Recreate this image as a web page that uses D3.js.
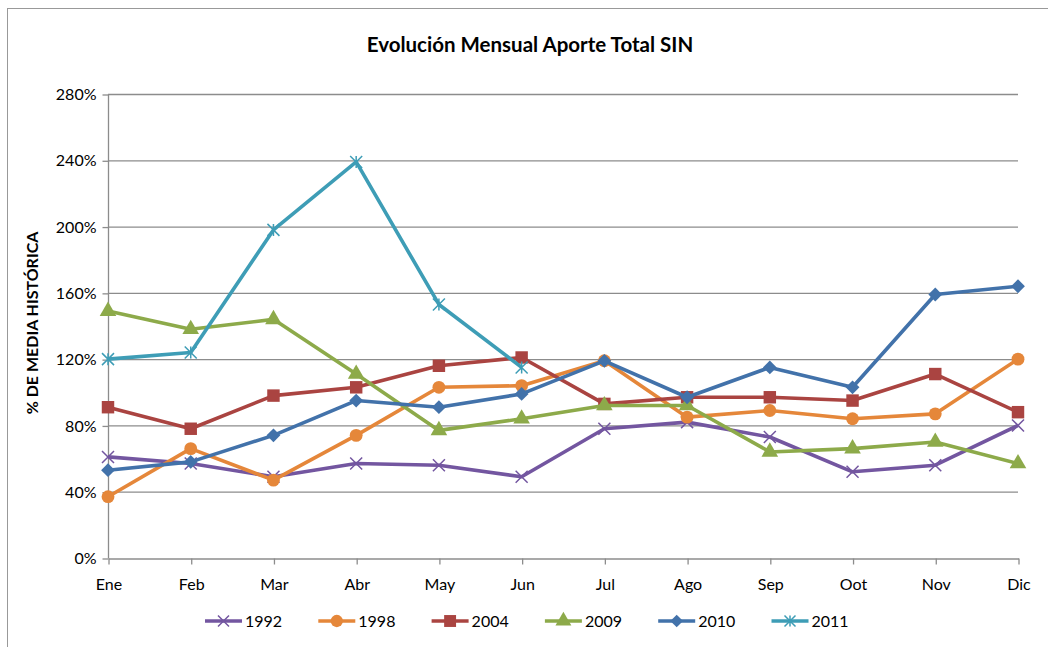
<!DOCTYPE html>
<html lang="es">
<head>
    <meta charset="UTF-8">
    <script src="https://d3js.org/d3.v7.min.js"></script>
    <style>
        body { margin: 0; background: #fff; }
        text { font-family: Lato, "Open Sans", Arial, sans-serif; fill: #000; }
    </style>
</head>
<body>
    <svg id="chart" width="1048" height="647"></svg>
    <script>
        // Meses y valores (% de media histórica)
        const meses = ["Ene", "Feb", "Mar", "Abr", "May", "Jun", "Jul", "Ago", "Sep", "Oot", "Nov", "Dic"];
        const yTicks = [0, 40, 80, 120, 160, 200, 240, 280];

        const v1992 = [61, 57, 49, 57, 56, 49, 78, 82, 73, 52, 56, 80];
        const v1998 = [37, 66, 47, 74, 103, 104, 119, 85, 89, 84, 87, 120];
        const v2004 = [91, 78, 98, 103, 116, 121, 93, 97, 97, 95, 111, 88];
        const v2009 = [149, 138, 144, 111, 77, 84, 92, 92, 64, 66, 70, 57];
        const v2010 = [53, 58, 74, 95, 91, 99, 119, 97, 115, 103, 159, 164];
        const v2011 = [120, 124, 198, 239, 153, 115];

        const series = [
            { name: "1992", values: v1992, color: "#7356A0", symbol: "x" },
            { name: "1998", values: v1998, color: "#E5873A", symbol: "circle" },
            { name: "2004", values: v2004, color: "#AA4441", symbol: "square" },
            { name: "2009", values: v2009, color: "#8DAA4A", symbol: "triangle" },
            { name: "2010", values: v2010, color: "#4272AA", symbol: "diamond" },
            { name: "2011", values: v2011, color: "#3E9DB6", symbol: "star" }
        ];

        const width = 1048, height = 647;
        const margin = { top: 94, right: 30, bottom: 89, left: 108 };

        const svg = d3.select("#chart");

        // marco del gráfico
        svg.append("rect")
            .attr("x", 7.5).attr("y", 8.5)
            .attr("width", width + 10).attr("height", height + 10)
            .attr("fill", "none").attr("stroke", "#999").attr("stroke-width", 1);

        svg.append("text")
            .attr("x", 530)
            .attr("y", 52)
            .attr("text-anchor", "middle")
            .style("font-size", "20.5px")
            .style("font-weight", "bold")
            .text("Evolución Mensual Aporte Total SIN");

        const x = d3.scalePoint()
            .domain(meses)
            .range([margin.left, width - margin.right]);

        const y = d3.scaleLinear()
            .domain([0, 280])
            .range([height - margin.bottom, margin.top]);

        // líneas de cuadrícula
        svg.append("g")
            .selectAll("line")
            .data(yTicks.slice(1))
            .enter().append("line")
            .attr("x1", margin.left).attr("x2", width - margin.right)
            .attr("y1", d => y(d) + 0.5).attr("y2", d => y(d) + 0.5)
            .attr("stroke", "#8c8c8c").attr("stroke-width", 1.3);

        const yAxis = svg.append("g")
            .attr("transform", `translate(${margin.left + 0.5},0.5)`)
            .call(d3.axisLeft(y).tickValues(yTicks).tickFormat(d => d + "%").tickSize(6).tickPadding(6));

        const xAxis = svg.append("g")
            .attr("transform", `translate(0.5,${height - margin.bottom + 0.5})`)
            .call(d3.axisBottom(x).tickSize(6).tickPadding(14).tickSizeOuter(0));

        [yAxis, xAxis].forEach(a => {
            a.selectAll("path, line").attr("stroke", "#8c8c8c").attr("stroke-width", 1.3);
            a.selectAll("text").style("font-size", "16px").attr("fill", "#000");
        });
        yAxis.select(".domain").attr("d", `M0,${y(0)}V${y(280)}`);

        svg.append("text")
            .attr("transform", `translate(38,${(y(0) + y(280)) / 2 - 3}) rotate(-90)`)
            .attr("text-anchor", "middle")
            .style("font-size", "16px")
            .style("font-weight", "bold")
            .text("% DE MEDIA HISTÓRICA");

        const line = d3.line()
            .x((d, i) => x(meses[i]))
            .y(d => y(d));

        function drawMarker(g, s, size) {
            const c = s.color;
            const r = size / 2;
            if (s.symbol === "x" || s.symbol === "star") {
                g.append("path")
                    .attr("d", `M${-r},${-r}L${r},${r}M${-r},${r}L${r},${-r}` + (s.symbol === "star" ? `M0,${-r}V${r}` : ""))
                    .attr("stroke", c).attr("stroke-width", 1.5).attr("fill", "none");
            } else if (s.symbol === "diamond") {
                const d = r * 1.15;
                g.append("path")
                    .attr("d", `M0,${-d}L${d},0L0,${d}L${-d},0Z`)
                    .attr("fill", c);
            } else {
                const type = { circle: d3.symbolCircle, square: d3.symbolSquare, triangle: d3.symbolTriangle }[s.symbol];
                const area = { circle: 130, square: 155, triangle: 120 }[s.symbol] * size / 12;
                g.append("path")
                    .attr("d", d3.symbol().type(type).size(area)())
                    .attr("fill", c);
            }
        }

        series.forEach(s => {
            svg.append("path")
                .datum(s.values)
                .attr("fill", "none")
                .attr("stroke", s.color)
                .attr("stroke-width", 3.6)
                .attr("stroke-linejoin", "round")
                .attr("d", line);

            s.values.forEach((v, i) => {
                const g = svg.append("g").attr("transform", `translate(${x(meses[i])},${y(v)})`);
                drawMarker(g, s, 12);
            });
        });

        // leyenda
        const legend = svg.append("g").attr("transform", "translate(205,621)");
        series.forEach((s, i) => {
            const g = legend.append("g").attr("transform", `translate(${i * 113.3},0)`);
            g.append("line").attr("x1", 0).attr("x2", 37).attr("y1", 0).attr("y2", 0)
                .attr("stroke", s.color).attr("stroke-width", 3.6);
            drawMarker(g.append("g").attr("transform", "translate(18.5,0)"), s, 11);
            g.append("text").attr("x", 40).attr("y", 6)
                .style("font-size", "16px").text(s.name);
        });
    </script>
</body>
</html>
